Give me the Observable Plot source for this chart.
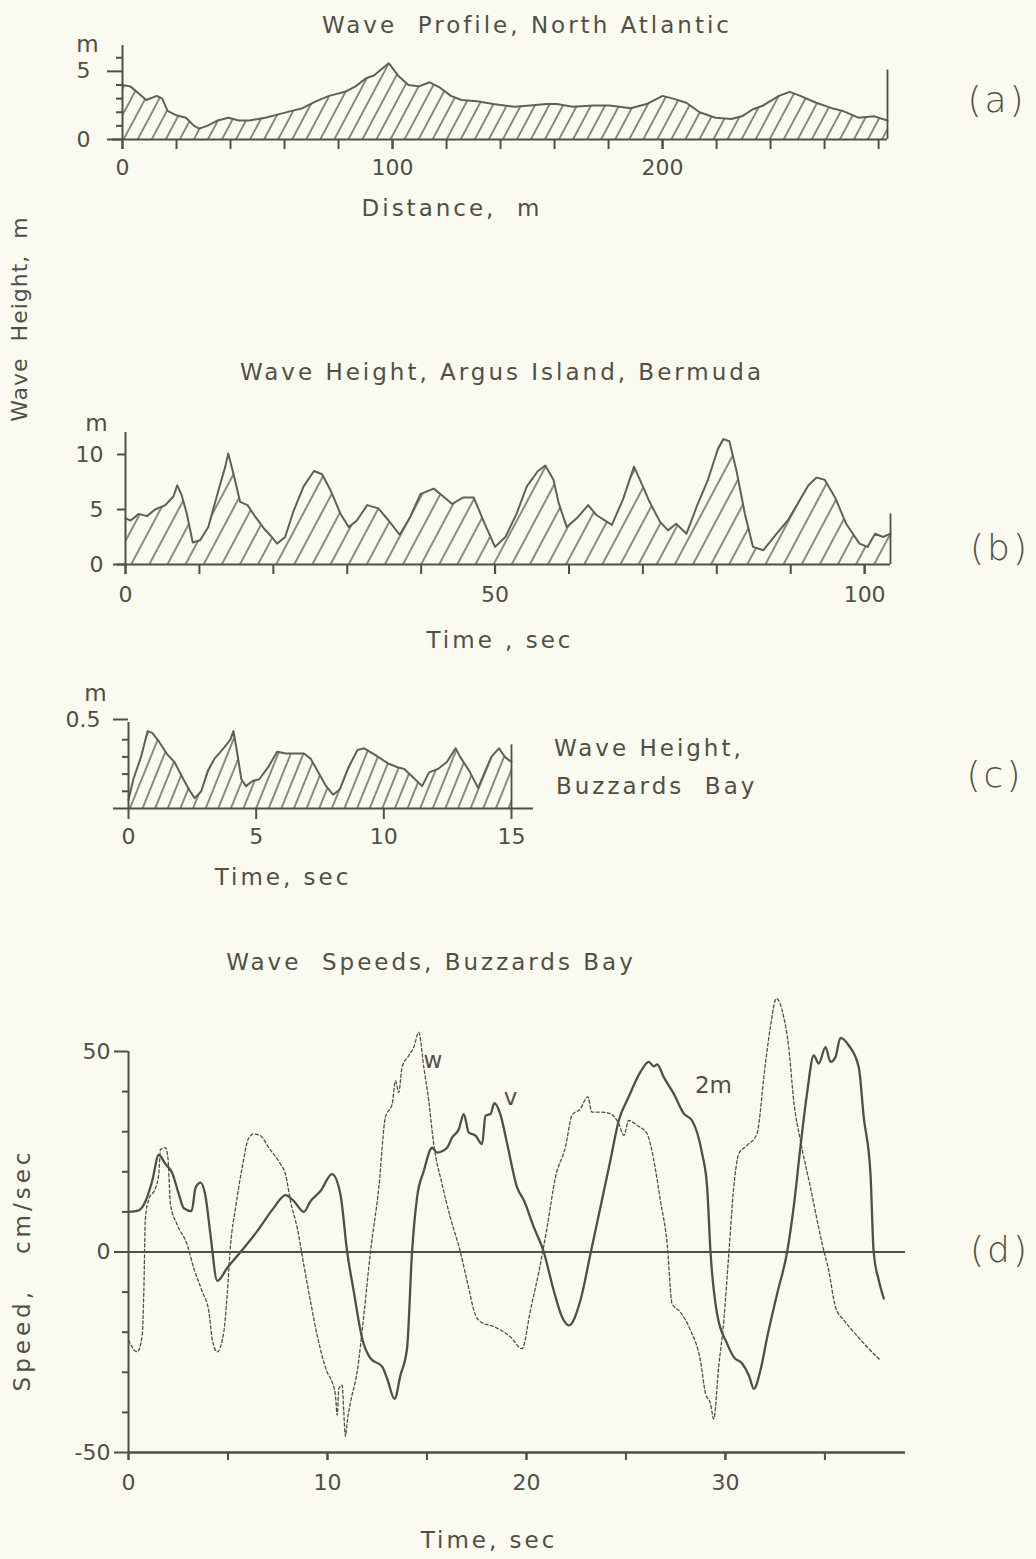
<!DOCTYPE html>
<html><head><meta charset="utf-8">
<script src="https://cdn.jsdelivr.net/npm/d3@7"></script>
<script src="https://cdn.jsdelivr.net/npm/@observablehq/plot@0.6"></script>
<style>
html,body{margin:0;padding:0;background:#fbfaf1;}
#page{position:relative;width:1036px;height:1559px;overflow:hidden;background:#fbfaf1;font-family:"DejaVu Sans",sans-serif;color:#4f5044;}
.lbl{position:absolute;white-space:pre;transform:translate(-50%,-50%);letter-spacing:3px;font-size:23px;line-height:1;}
.plot{position:absolute;left:0;}
</style></head><body><div id="page"></div>
<script>
// ---------- DATA ----------
// (a) Wave profile, North Atlantic: [distance m, height m]
const profileA = [[0,4.0],[2.9,3.9],[5.9,3.4],[8.8,2.9],[12.7,3.2],[14.7,3.0],[16.7,2.1],[19.6,1.8],[23.5,1.6],[26.5,1.0],[28.4,0.8],[31.4,1.0],[35.3,1.4],[39.2,1.6],[43.1,1.4],[47.1,1.4],[52.9,1.6],[58.8,1.9],[62.7,2.1],[66.7,2.3],[71.6,2.8],[76.5,3.2],[82.4,3.5],[86.3,3.9],[90.2,4.5],[93.1,4.7],[96.1,5.2],[98.6,5.6],[102,4.7],[105.9,4.0],[109.8,3.9],[113.7,4.2],[117.6,3.8],[121.6,3.2],[125.5,2.9],[131.4,2.8],[137.3,2.6],[145.1,2.4],[151,2.5],[156.9,2.6],[160.8,2.6],[166.7,2.4],[174.5,2.5],[180.4,2.5],[188.2,2.3],[194.1,2.6],[200,3.2],[203.9,3.0],[208.8,2.7],[213.7,2.0],[219.6,1.6],[225.5,1.5],[229.4,1.7],[233.3,2.2],[237.3,2.5],[243.1,3.2],[247.1,3.5],[251,3.2],[256.9,2.7],[262.7,2.3],[266.7,2.1],[272.5,1.6],[278.4,1.7],[283.3,1.4]];
const profileAEnd = [{x: 283.3, top: 5.1}];
// (b) Wave height, Argus Island: [time s, height m]
const heightB = [[0,4.2],[0.7,4.0],[1.8,4.6],[2.9,4.4],[4.0,5.0],[5.4,5.4],[6.5,6.2],[7.0,7.2],[7.6,6.3],[8.3,4.6],[9.1,2.0],[10.1,2.2],[11.2,3.4],[12.6,6.8],[13.5,8.9],[13.9,10.1],[14.7,8.0],[15.5,5.7],[16.5,5.4],[17.6,4.3],[18.7,3.3],[19.8,2.5],[20.5,1.9],[21.6,2.5],[22.7,4.8],[24.1,7.1],[25.5,8.5],[26.6,8.2],[27.7,6.8],[29.1,4.6],[30.2,3.4],[31.3,4.0],[32.7,5.4],[34.2,5.1],[35.6,4.0],[37.1,2.7],[38.5,4.3],[39.9,6.4],[41.7,6.9],[42.8,6.3],[44.2,5.5],[45.7,6.1],[47.1,6.1],[48.6,3.7],[50.0,1.6],[51.4,2.5],[52.9,4.6],[54.3,7.1],[55.8,8.5],[56.8,9.0],[57.9,7.7],[58.6,5.6],[59.7,3.4],[61.2,4.3],[62.6,5.4],[63.7,4.5],[65.1,3.9],[65.8,3.6],[67.3,5.9],[68.8,8.9],[69.8,7.4],[70.9,5.7],[72.3,3.9],[73.4,3.1],[74.5,3.7],[75.9,2.8],[77.3,5.3],[78.8,7.7],[80.2,10.6],[80.9,11.4],[81.7,11.2],[82.7,8.4],[83.8,4.6],[84.9,1.6],[86.3,1.3],[88.1,2.8],[89.6,4.0],[91.0,5.6],[92.4,7.2],[93.5,7.9],[94.6,7.7],[96.0,6.1],[97.5,3.7],[99.3,1.9],[100.4,1.6],[101.4,2.8],[102.5,2.5],[103.5,2.8]];
const heightBEnd = [{x: 103.5, top: 4.6}];
// (c) Wave height, Buzzards Bay: [time s, height m]
const heightC = [[0,0.05],[0.19,0.17],[0.49,0.30],[0.75,0.45],[0.93,0.44],[1.19,0.39],[1.54,0.31],[1.80,0.27],[2.15,0.17],[2.41,0.10],[2.59,0.06],[2.85,0.10],[3.11,0.22],[3.37,0.29],[3.72,0.35],[3.99,0.40],[4.11,0.45],[4.25,0.33],[4.42,0.17],[4.60,0.13],[4.86,0.16],[5.12,0.17],[5.47,0.24],[5.82,0.33],[6.17,0.32],[6.52,0.32],[6.87,0.32],[7.13,0.29],[7.40,0.22],[7.74,0.13],[8.01,0.08],[8.27,0.11],[8.62,0.24],[8.97,0.34],[9.23,0.35],[9.67,0.31],[10.19,0.26],[10.54,0.24],[10.80,0.23],[11.15,0.18],[11.50,0.13],[11.77,0.21],[12.12,0.23],[12.47,0.27],[12.81,0.35],[12.99,0.30],[13.34,0.22],[13.69,0.12],[13.95,0.21],[14.21,0.30],[14.51,0.35],[14.74,0.30],[15.0,0.27]];
const heightCEnd = [{x: 15, top: 0.37}];
// (d) Wave speeds, Buzzards Bay: [time s, speed cm/s]
const speedV = [[0,10.0],[0.52,10.4],[0.86,12.7],[1.19,17.7],[1.52,24.2],[1.86,21.9],[2.19,19.8],[2.53,14.4],[2.78,10.9],[3.17,10.2],[3.37,16.0],[3.62,17.3],[3.87,13.9],[4.12,4.3],[4.46,-7.2],[4.96,-4.0],[5.63,0],[6.47,5.2],[7.30,11.0],[7.89,14.2],[8.31,12.7],[8.81,10.0],[9.15,12.7],[9.65,15.2],[10.23,19.4],[10.65,14.4],[10.99,0],[11.32,-9.8],[11.74,-21.5],[12.16,-26.5],[12.75,-28.6],[13.0,-31.6],[13.37,-36.6],[13.67,-30.7],[14.0,-24.0],[14.25,0],[14.5,13.5],[14.84,20.2],[15.26,26.0],[15.51,24.8],[16.01,26.0],[16.26,28.5],[16.6,30.6],[16.85,34.4],[17.1,29.8],[17.44,29.0],[17.77,26.9],[17.94,34.0],[18.19,34.4],[18.39,37.1],[18.69,34.3],[19.03,27],[19.53,16.1],[19.87,12.9],[20.37,6.2],[20.87,0],[21.37,-9.6],[21.79,-16.2],[22.13,-18.3],[22.71,-12.1],[23.22,-0.4],[23.72,11.2],[24.22,22.9],[24.64,32.8],[25.14,38.7],[25.73,44.9],[26.15,47.4],[26.4,46.3],[26.57,46.8],[26.9,43.6],[27.4,39.5],[27.91,34.5],[28.32,32.8],[28.83,24.5],[29.08,16.2],[29.25,0],[29.58,-15.4],[30.09,-22.9],[30.42,-26.2],[30.84,-27.8],[31.18,-30.8],[31.43,-34.1],[31.76,-29.5],[32.1,-21.2],[32.6,-10.4],[33.1,0],[33.43,11.2],[33.77,26.2],[34.1,39.5],[34.44,49.0],[34.69,47.0],[35.03,51.1],[35.28,47.4],[35.53,48.6],[35.78,53.4],[36.2,51.5],[36.7,46.1],[36.95,33.7],[37.29,19.5],[37.45,0],[37.71,-7.1],[37.96,-11.6]];
const speedW = [[0,-22.0],[0.44,-24.9],[0.69,-20.7],[0.77,-9.8],[0.85,8.5],[1.02,13.1],[1.36,16.0],[1.52,19.4],[1.61,25.6],[1.86,26.0],[1.98,23.5],[2.11,11.9],[2.45,6.8],[2.95,1.8],[3.28,-4.0],[3.7,-9.8],[4.04,-14.9],[4.2,-21.5],[4.46,-24.9],[4.79,-19.9],[4.96,-10.7],[5.13,1.8],[5.38,11.0],[5.71,21.0],[6.05,28.5],[6.3,29.4],[6.63,29.0],[7.05,26.0],[7.64,21.9],[7.89,19.4],[8.14,12.7],[8.48,6.0],[8.81,-3.2],[9.15,-12.4],[9.48,-20.7],[9.98,-29.9],[10.23,-32.4],[10.4,-35.7],[10.49,-40.7],[10.57,-34.1],[10.74,-33.2],[10.82,-39.9],[10.9,-46],[11.0,-42],[11.16,-37.4],[11.49,-29.9],[11.83,-15.7],[12.16,0],[12.58,16.0],[12.91,33.6],[13.25,36.9],[13.42,42.7],[13.58,39.8],[13.75,46.1],[14.09,49.0],[14.34,51.1],[14.59,54.8],[14.84,46.1],[15.09,37.7],[15.34,26.9],[15.76,16.9],[16.18,8.5],[16.68,0],[17.02,-7.3],[17.44,-15.7],[17.69,-17.4],[18.36,-18.6],[19.2,-21.2],[19.78,-24.1],[20.2,-14.5],[20.62,-5.0],[21.04,6.2],[21.46,18.7],[21.96,26.2],[22.29,34.1],[22.71,35.7],[23.08,38.7],[23.29,34.9],[23.72,34.9],[24.22,34.5],[24.64,32.0],[24.89,29.1],[25.14,32.8],[25.56,31.6],[26.06,29.5],[26.4,22.9],[26.73,12.9],[27.07,2.1],[27.32,-12.9],[27.74,-15.0],[28.24,-19.5],[28.74,-27.0],[29.0,-35.3],[29.25,-37.8],[29.41,-41.6],[29.66,-28.7],[29.92,-17.0],[30.17,-0.4],[30.42,16.2],[30.67,24.5],[31.09,26.6],[31.59,29.5],[31.68,32.0],[31.93,43.6],[32.26,56.1],[32.56,63.2],[32.93,58.6],[33.18,51.1],[33.43,37.8],[33.77,27.8],[34.27,16.2],[34.86,2.1],[35.19,-4.6],[35.53,-13.7],[35.95,-17.0],[36.53,-20.4],[37.12,-23.7],[37.79,-27.0]];
const seriesLabelsD = [{t: 15.3, s: 47.8, text: "w"}, {t: 19.2, s: 38.5, text: "v"}, {t: 29.4, s: 41.6, text: "2m"}];

// tick labels
const ticksA = {xLabeled: [0, 100, 200], xMinor: d3.range(0, 281, 20), yLabeled: [0, 5], yMinor: [1, 2, 3, 4, 6]};
const ticksB = {xLabeled: [0, 50, 100], xMinor: d3.range(0, 101, 10), yLabeled: [0, 5, 10]};
const ticksC = {xLabeled: [0, 5, 10, 15], yLabeled: [0.5], yMinor: [0.1, 0.2, 0.3, 0.4]};
const ticksD = {xLabeled: [0, 10, 20, 30], xMinor: d3.range(0, 36, 5), yLabeled: [-50, 0, 50], yMinor: [-40, -30, -20, -10, 10, 20, 30, 40]};

// ---------- DRAWING ----------
const ink = "#4f5044";
const lineInk = "#606154";
const font = "DejaVu Sans, sans-serif";
const page = document.getElementById("page");
const px = d => d[0], py = d => d[1];
const fmt = d => String(d);

function addHatch(svg, id, spacing, angle) {
  const ns = "http://www.w3.org/2000/svg";
  const defs = document.createElementNS(ns, "defs");
  const p = document.createElementNS(ns, "pattern");
  p.setAttribute("id", id);
  p.setAttribute("patternUnits", "userSpaceOnUse");
  p.setAttribute("width", spacing);
  p.setAttribute("height", 20);
  p.setAttribute("patternTransform", `rotate(${angle})`);
  const l = document.createElementNS(ns, "line");
  l.setAttribute("x1", 1); l.setAttribute("x2", 1); l.setAttribute("y1", -1); l.setAttribute("y2", 21);
  l.setAttribute("stroke", ink); l.setAttribute("stroke-width", 1.3);
  p.appendChild(l); defs.appendChild(p); svg.insertBefore(defs, svg.firstChild);
}
function place(svg, top) {
  svg.classList.add("plot");
  svg.style.top = top + "px";
  svg.style.position = "absolute";
  page.appendChild(svg);
}
const baseStyle = {fontFamily: font, fontSize: "22px", color: ink, background: "transparent", overflow: "visible"};
const ax = (o) => Object.assign({label: null, strokeWidth: 2, fontSize: 22, tickFormat: fmt}, o);

// (a)
const svgA = Plot.plot({
  width: 1036, height: 190, marginTop: 45, marginBottom: 51, marginLeft: 122, marginRight: 149,
  x: {domain: [0, 283.3], axis: null}, y: {domain: [0, 6.9], axis: null},
  style: baseStyle,
  marks: [
    Plot.areaY(profileA, {x: px, y: py, fill: "url(#hatchA)"}),
    Plot.lineY(profileA, {x: px, y: py, stroke: lineInk, strokeWidth: 2}),
    Plot.ruleX(profileAEnd, {x: "x", y1: 0, y2: "top", stroke: ink, strokeWidth: 1.8}),
    Plot.ruleX([0], {stroke: ink, strokeWidth: 2}),
    Plot.ruleY([0], {stroke: ink, strokeWidth: 2.2, insetLeft: -10}),
    Plot.axisY(ax({ticks: ticksA.yMinor, tickSize: 6, text: null})),
    Plot.axisY(ax({ticks: ticksA.yLabeled, tickSize: 15, tickPadding: 17})),
    Plot.axisX(ax({ticks: ticksA.xMinor, tickSize: 10, text: null})),
    Plot.axisX(ax({ticks: ticksA.xLabeled, tickSize: 10, tickPadding: 10}))
  ]
});
addHatch(svgA, "hatchA", 12.4, 28);
place(svgA, 0);

// (b)
const svgB = Plot.plot({
  width: 1036, height: 220, marginTop: 32, marginBottom: 56, marginLeft: 125, marginRight: 146,
  x: {domain: [0, 103.5], axis: null}, y: {domain: [0, 12], axis: null},
  style: baseStyle,
  marks: [
    Plot.areaY(heightB, {x: px, y: py, fill: "url(#hatchB)"}),
    Plot.lineY(heightB, {x: px, y: py, stroke: lineInk, strokeWidth: 2}),
    Plot.ruleX(heightBEnd, {x: "x", y1: 0, y2: "top", stroke: ink, strokeWidth: 1.8}),
    Plot.ruleX([0], {stroke: ink, strokeWidth: 2}),
    Plot.ruleY([0], {stroke: ink, strokeWidth: 2.2, insetLeft: -12}),
    Plot.axisY(ax({ticks: ticksB.yLabeled, tickSize: 8, tickPadding: 14})),
    Plot.axisX(ax({ticks: ticksB.xMinor, tickSize: 10, text: null})),
    Plot.axisX(ax({ticks: ticksB.xLabeled, tickSize: 10, tickPadding: 12}))
  ]
});
addHatch(svgB, "hatchB", 16, 28);
place(svgB, 400);

// (c)
const svgC = Plot.plot({
  width: 1036, height: 160, marginTop: 32, marginBottom: 42, marginLeft: 128, marginRight: 525,
  x: {domain: [0, 15], axis: null}, y: {domain: [0, 0.5], axis: null},
  style: baseStyle,
  marks: [
    Plot.areaY(heightC, {x: px, y: py, fill: "url(#hatchC)"}),
    Plot.lineY(heightC, {x: px, y: py, stroke: lineInk, strokeWidth: 2}),
    Plot.ruleX(heightCEnd, {x: "x", y1: 0, y2: "top", stroke: ink, strokeWidth: 1.8}),
    Plot.ruleX([0], {stroke: ink, strokeWidth: 2}),
    Plot.ruleY([0], {stroke: ink, strokeWidth: 2.2, insetLeft: -15, insetRight: -22}),
    Plot.axisY(ax({ticks: ticksC.yMinor, tickSize: 6, text: null})),
    Plot.axisY(ax({ticks: ticksC.yLabeled, tickSize: 15, tickPadding: 13, dy: -3})),
    Plot.axisX(ax({ticks: ticksC.xLabeled, tickSize: 11, tickPadding: 9}))
  ]
});
addHatch(svgC, "hatchC", 11.7, 22);
place(svgC, 690);

// (d)
const svgD = Plot.plot({
  width: 1036, height: 500, marginTop: 31, marginBottom: 68, marginLeft: 128, marginRight: 131,
  x: {domain: [0, 39.05], axis: null}, y: {domain: [-50, 50], axis: null},
  style: baseStyle,
  marks: [
    Plot.ruleX([0], {stroke: ink, strokeWidth: 2}),
    Plot.ruleY([0], {stroke: ink, strokeWidth: 2}),
    Plot.ruleY([-50], {stroke: ink, strokeWidth: 2.4}),
    Plot.lineY(speedW, {x: px, y: py, stroke: ink, strokeWidth: 1.3, strokeDasharray: "3,2.5", curve: "monotone-x"}),
    Plot.lineY(speedV, {x: px, y: py, stroke: ink, strokeWidth: 2.3, curve: "monotone-x"}),
    Plot.text(seriesLabelsD, {x: "t", y: "s", text: "text", fontSize: 23, fill: ink}),
    Plot.axisY(ax({ticks: ticksD.yMinor, tickSize: 6, text: null})),
    Plot.axisY(ax({ticks: ticksD.yLabeled, tickSize: 14, tickPadding: 4})),
    Plot.axisX(ax({ticks: ticksD.xMinor, tickSize: 8, text: null})),
    Plot.axisX(ax({ticks: ticksD.xLabeled, tickSize: 8, tickPadding: 14}))
  ]
});
place(svgD, 1020);

// ---------- TEXT ----------
const labels = [
  {t: "Wave  Profile, North Atlantic", x: 527, y: 25},
  {t: "m", x: 89, y: 44},
  {t: "Distance,  m", x: 452, y: 208},
  {t: "(a)", x: 997, y: 100, cls: "big"},
  {t: "Wave  Height,  m", x: 20, y: 319, rot: true, size: 22, ls: 1},
  {t: "Wave Height, Argus Island, Bermuda", x: 502, y: 372},
  {t: "m", x: 98, y: 423},
  {t: "Time , sec", x: 500, y: 640},
  {t: "(b)", x: 1000, y: 548, cls: "big"},
  {t: "m", x: 97, y: 693},
  {t: "Wave Height,", x: 554, y: 748, left: true},
  {t: "Buzzards  Bay", x: 556, y: 786, left: true},
  {t: "Time, sec", x: 283, y: 877},
  {t: "(c)", x: 995, y: 775, cls: "big"},
  {t: "Wave  Speeds, Buzzards Bay", x: 431, y: 962},
  {t: "Speed,   cm/sec", x: 22, y: 1270, rot: true, ls: 4},
  {t: "(d)", x: 1000, y: 1250, cls: "big"},
  {t: "Time, sec", x: 489, y: 1540}
];
for (const L of labels) {
  const d = document.createElement("div");
  d.className = "lbl";
  d.textContent = L.t;
  d.style.left = L.x + "px";
  d.style.top = L.y + "px";
  if (L.size) d.style.fontSize = L.size + "px";
  if (L.ls != null) d.style.letterSpacing = L.ls + "px";
  if (L.rot) d.style.transform = "translate(-50%,-50%) rotate(-90deg)";
  if (L.left) d.style.transform = "translate(0,-50%)";
  if (L.cls === "big") { d.style.fontSize = "36px"; d.style.fontWeight = "200"; d.style.letterSpacing = "3px"; }
  page.appendChild(d);
}
</script></body></html>
